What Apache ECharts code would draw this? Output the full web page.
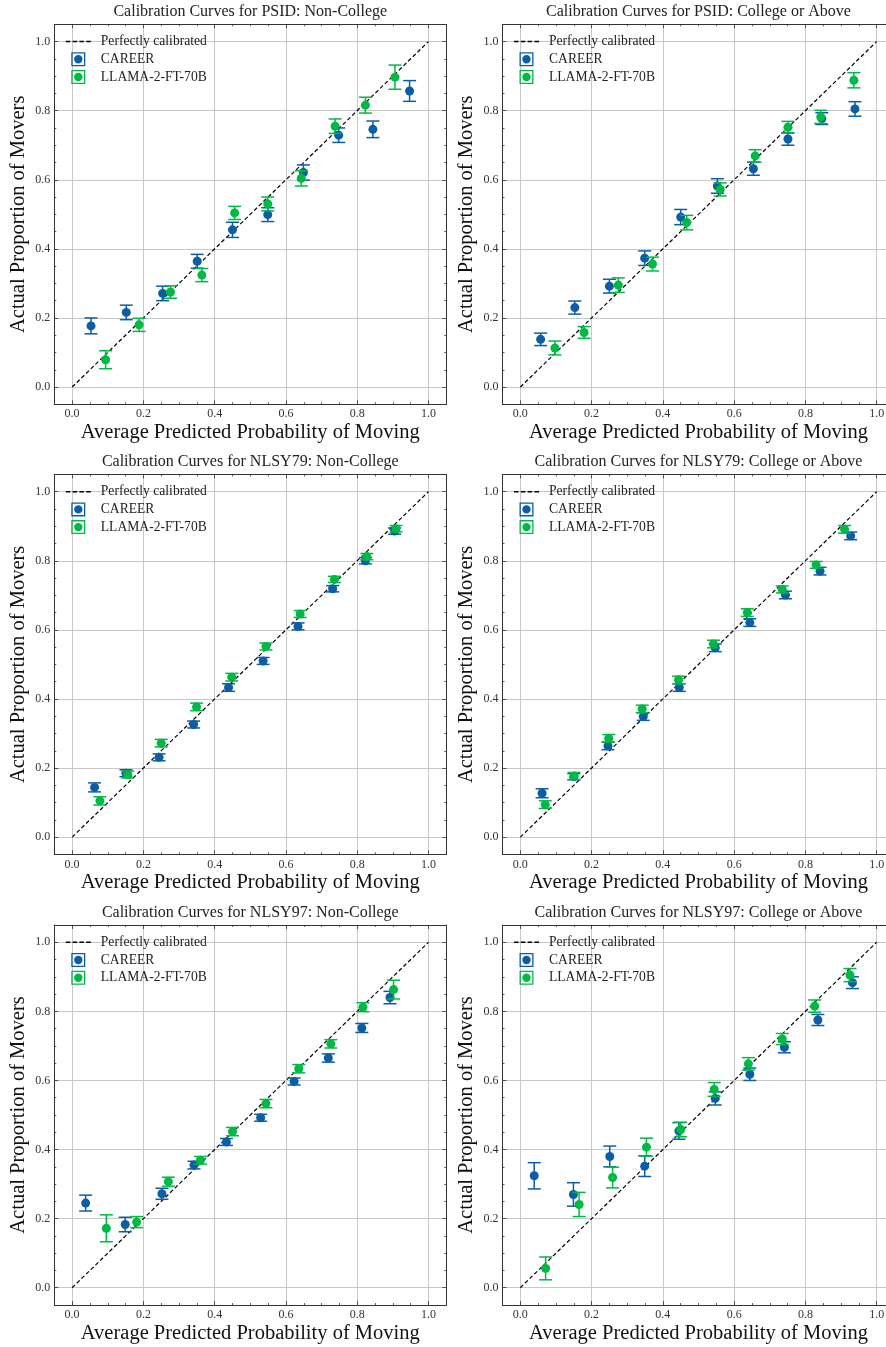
<!DOCTYPE html>
<html><head><meta charset="utf-8">
<script src="https://cdn.jsdelivr.net/npm/echarts@6/dist/echarts.min.js"></script>
<style>html,body{margin:0;padding:0;background:#fff;overflow:hidden;width:886px;height:1347px}#c{width:900px;height:1347px}</style>
</head><body><div id="c"></div>
<script>
// ---------- DATA ----------
const panelTitles = [
  'Calibration Curves for PSID: Non-College',
  'Calibration Curves for PSID: College or Above',
  'Calibration Curves for NLSY79: Non-College',
  'Calibration Curves for NLSY79: College or Above',
  'Calibration Curves for NLSY97: Non-College',
  'Calibration Curves for NLSY97: College or Above'
];
const seriesNames = ['Perfectly calibrated', 'CAREER', 'LLAMA-2-FT-70B'];
const xAxisTitle = 'Average Predicted Probability of Moving';
const yAxisTitle = 'Actual Proportion of Movers';
const tickLabels = ['0.0', '0.2', '0.4', '0.6', '0.8', '1.0'];
const perfectLine = [[0, 0], [1, 1]];

// each row: [mean predicted prob, actual proportion, error half-width]
const psidNonCollegeCareer = [[0.053,0.177,0.023],[0.152,0.216,0.021],[0.254,0.271,0.021],[0.351,0.364,0.020],[0.450,0.455,0.022],[0.549,0.499,0.020],[0.649,0.621,0.022],[0.748,0.729,0.021],[0.844,0.746,0.024],[0.947,0.857,0.030]];
const psidNonCollegeLlama  = [[0.094,0.079,0.026],[0.188,0.180,0.019],[0.276,0.275,0.018],[0.364,0.324,0.019],[0.456,0.504,0.019],[0.549,0.530,0.020],[0.643,0.604,0.022],[0.738,0.755,0.021],[0.823,0.816,0.023],[0.906,0.897,0.035]];
const psidCollegeCareer = [[0.057,0.138,0.018],[0.153,0.230,0.019],[0.250,0.292,0.020],[0.349,0.373,0.021],[0.450,0.492,0.022],[0.553,0.582,0.021],[0.654,0.632,0.019],[0.751,0.718,0.018],[0.846,0.777,0.017],[0.939,0.805,0.021]];
const psidCollegeLlama  = [[0.097,0.113,0.020],[0.179,0.158,0.017],[0.275,0.295,0.021],[0.371,0.356,0.020],[0.467,0.476,0.021],[0.561,0.572,0.019],[0.659,0.669,0.018],[0.751,0.752,0.017],[0.843,0.782,0.019],[0.936,0.888,0.022]];
const nlsy79NonCollegeCareer = [[0.063,0.144,0.013],[0.151,0.185,0.010],[0.244,0.231,0.010],[0.341,0.326,0.010],[0.439,0.433,0.011],[0.536,0.510,0.010],[0.634,0.610,0.010],[0.731,0.719,0.009],[0.823,0.800,0.009],[0.905,0.886,0.009]];
const nlsy79NonCollegeLlama  = [[0.078,0.105,0.012],[0.156,0.181,0.010],[0.250,0.272,0.011],[0.349,0.377,0.011],[0.448,0.463,0.011],[0.544,0.552,0.010],[0.640,0.646,0.010],[0.736,0.746,0.009],[0.827,0.812,0.009],[0.909,0.893,0.009]];
const nlsy79CollegeCareer = [[0.061,0.127,0.013],[0.150,0.175,0.009],[0.246,0.264,0.011],[0.345,0.349,0.011],[0.446,0.433,0.011],[0.547,0.548,0.011],[0.644,0.621,0.011],[0.744,0.701,0.011],[0.841,0.770,0.011],[0.927,0.872,0.011]];
const nlsy79CollegeLlama  = [[0.070,0.094,0.011],[0.151,0.177,0.010],[0.248,0.286,0.011],[0.342,0.371,0.011],[0.444,0.455,0.011],[0.542,0.559,0.011],[0.637,0.650,0.011],[0.735,0.717,0.010],[0.830,0.788,0.010],[0.910,0.891,0.011]];
const nlsy97NonCollegeCareer = [[0.038,0.245,0.023],[0.149,0.183,0.021],[0.252,0.272,0.016],[0.342,0.355,0.011],[0.433,0.422,0.010],[0.529,0.492,0.010],[0.623,0.597,0.010],[0.719,0.665,0.012],[0.813,0.752,0.013],[0.892,0.840,0.018]];
const nlsy97NonCollegeLlama  = [[0.096,0.172,0.039],[0.181,0.190,0.016],[0.270,0.307,0.013],[0.360,0.369,0.011],[0.450,0.452,0.012],[0.544,0.533,0.012],[0.636,0.634,0.012],[0.726,0.706,0.012],[0.816,0.812,0.013],[0.902,0.863,0.027]];
const nlsy97CollegeCareer = [[0.039,0.324,0.038],[0.149,0.270,0.034],[0.251,0.380,0.030],[0.349,0.352,0.030],[0.445,0.454,0.024],[0.547,0.548,0.019],[0.644,0.618,0.018],[0.741,0.696,0.016],[0.835,0.775,0.016],[0.932,0.883,0.017]];
const nlsy97CollegeLlama  = [[0.071,0.056,0.033],[0.165,0.241,0.035],[0.259,0.319,0.030],[0.354,0.407,0.026],[0.450,0.458,0.021],[0.544,0.574,0.020],[0.640,0.648,0.018],[0.735,0.720,0.016],[0.826,0.815,0.018],[0.925,0.905,0.019]];

const careerByPanel = [psidNonCollegeCareer, psidCollegeCareer, nlsy79NonCollegeCareer, nlsy79CollegeCareer, nlsy97NonCollegeCareer, nlsy97CollegeCareer];
const llamaByPanel  = [psidNonCollegeLlama, psidCollegeLlama, nlsy79NonCollegeLlama, nlsy79CollegeLlama, nlsy97NonCollegeLlama, nlsy97CollegeLlama];

// ---------- STYLE / LAYOUT ----------
const FONT = '"Liberation Serif", "DejaVu Serif", serif';
const C_CAREER = '#0C5DA5';
const C_LLAMA = '#00B945';
const AX = '#333333';
const colLeft = [54.3, 502.5];
const rowTop = [24.3, 474.4, 925];
const GW = 392, GH = 380;
const errIcon = 'path://M0,0 L14,0 L14,14 L0,14 Z M1.3,1.3 L1.3,12.7 L12.7,12.7 L12.7,1.3 Z M7,2.8 A4.2,4.2 0 1 1 6.99,2.8 Z';
const dashIcon = 'path://M0,0 L4.6,0 L4.6,1.5 L0,1.5 Z M6.8,0 L11.4,0 L11.4,1.5 L6.8,1.5 Z M13.6,0 L18.2,0 L18.2,1.5 L13.6,1.5 Z M20.4,0 L25,0 L25,1.5 L20.4,1.5 Z';

function errRender(color) {
  return function (params, api) {
    const x = api.value(0), y = api.value(1), e = api.value(2);
    const t = api.coord([x, y + e]);
    const b = api.coord([x, y - e]);
    const hw = 6.5;
    const st = { stroke: color, lineWidth: 1.5 };
    return {
      type: 'group',
      children: [
        { type: 'line', shape: { x1: t[0], y1: t[1], x2: b[0], y2: b[1] }, style: st },
        { type: 'line', shape: { x1: t[0] - hw, y1: t[1], x2: t[0] + hw, y2: t[1] }, style: st },
        { type: 'line', shape: { x1: b[0] - hw, y1: b[1], x2: b[0] + hw, y2: b[1] }, style: st }
      ]
    };
  };
}

const grid = [], xAxis = [], yAxis = [], series = [], legend = [], graphic = [];
const fmt = v => {
  const k = Math.round(v / 0.2);
  return (Math.abs(v / 0.2 - k) < 1e-6 && tickLabels[k] !== undefined) ? tickLabels[k] : '';
};

for (let i = 0; i < 6; i++) {
  const gl = colLeft[i % 2], gt = rowTop[Math.floor(i / 2)];
  grid.push({ left: gl, top: gt, width: GW, height: GH, containLabel: false, outerBoundsMode: 'none' });
  const common = {
    type: 'value', min: -0.05, max: 1.05, gridIndex: i,
    axisLine: { show: true, onZero: false, lineStyle: { color: AX, width: 1 } },
    axisTick: { show: true, inside: true, length: 4, lineStyle: { color: AX, width: 0.8 } },
    minorTick: { show: true, splitNumber: 4, length: 2, lineStyle: { color: AX, width: 0.8 } },
    minorSplitLine: { show: false }
  };
  xAxis.push(Object.assign({}, common, {
    position: 'bottom',
    name: xAxisTitle, nameLocation: 'middle', nameGap: 18,
    nameTextStyle: { fontFamily: FONT, fontSize: 20.5, color: '#111' },
    axisLabel: { show: true, margin: 4, fontFamily: FONT, fontSize: 12, color: '#333', formatter: fmt, showMinLabel: false, showMaxLabel: false },
    splitLine: { show: true, lineStyle: { color: '#c8c8c8', width: 1 } }
  }));
  xAxis.push(Object.assign({}, common, {
    position: 'top', axisLabel: { show: false }, splitLine: { show: false }
  }));
  yAxis.push(Object.assign({}, common, {
    position: 'left',
    name: yAxisTitle, nameLocation: 'middle', nameGap: 25.5,
    nameTextStyle: { fontFamily: FONT, fontSize: 20.5, color: '#111' },
    axisLabel: { show: true, margin: 4, fontFamily: FONT, fontSize: 12, color: '#333', formatter: fmt, showMinLabel: false, showMaxLabel: false },
    splitLine: { show: true, lineStyle: { color: '#c8c8c8', width: 1 } }
  }));
  yAxis.push(Object.assign({}, common, {
    position: 'right', axisLabel: { show: false }, splitLine: { show: false }
  }));

  const xi = 2 * i, yi = 2 * i;
  series.push({
    type: 'line', name: seriesNames[0], xAxisIndex: xi, yAxisIndex: yi,
    data: perfectLine, symbol: 'none', z: 2, silent: true,
    lineStyle: { color: '#000', width: 1.2, type: [4, 2.5] }, itemStyle: { color: '#000' }
  });
  [[careerByPanel[i], C_CAREER, seriesNames[1], 3], [llamaByPanel[i], C_LLAMA, seriesNames[2], 5]].forEach(([d, col, nm, z]) => {
    series.push({
      type: 'custom', name: nm + ' error', xAxisIndex: xi, yAxisIndex: yi,
      data: d, encode: { x: 0, y: 1 }, renderItem: errRender(col), z: z, silent: true
    });
    series.push({
      type: 'scatter', name: nm, xAxisIndex: xi, yAxisIndex: yi,
      data: d.map(r => [r[0], r[1]]), symbol: 'circle', symbolSize: 9, z: z + 1, silent: true,
      itemStyle: { color: col, opacity: 1 }
    });
  });

  legend.push({
    left: gl + 6.5, top: gt + 5.3, orient: 'vertical', padding: 5,
    itemWidth: 25, itemHeight: 14, itemGap: 3.7, selectedMode: false,
    data: [{ name: seriesNames[0], icon: dashIcon }, { name: seriesNames[1], icon: errIcon }, { name: seriesNames[2], icon: errIcon }],
    textStyle: { fontFamily: FONT, fontSize: 13.6, color: '#222', padding: [0, 0, 0, 5] }
  });

  graphic.push({
    type: 'text', x: gl + GW / 2, y: gt - 12.5, silent: true,
    style: { text: panelTitles[i], fontFamily: FONT, fontSize: 16, fill: '#222', textAlign: 'center', textVerticalAlign: 'middle' }
  });
}

const chart = echarts.init(document.getElementById('c'), null, { renderer: 'canvas' });
chart.setOption({
  animation: false,
  backgroundColor: '#ffffff',
  grid, xAxis, yAxis, series, legend, graphic
});
</script></body></html>
